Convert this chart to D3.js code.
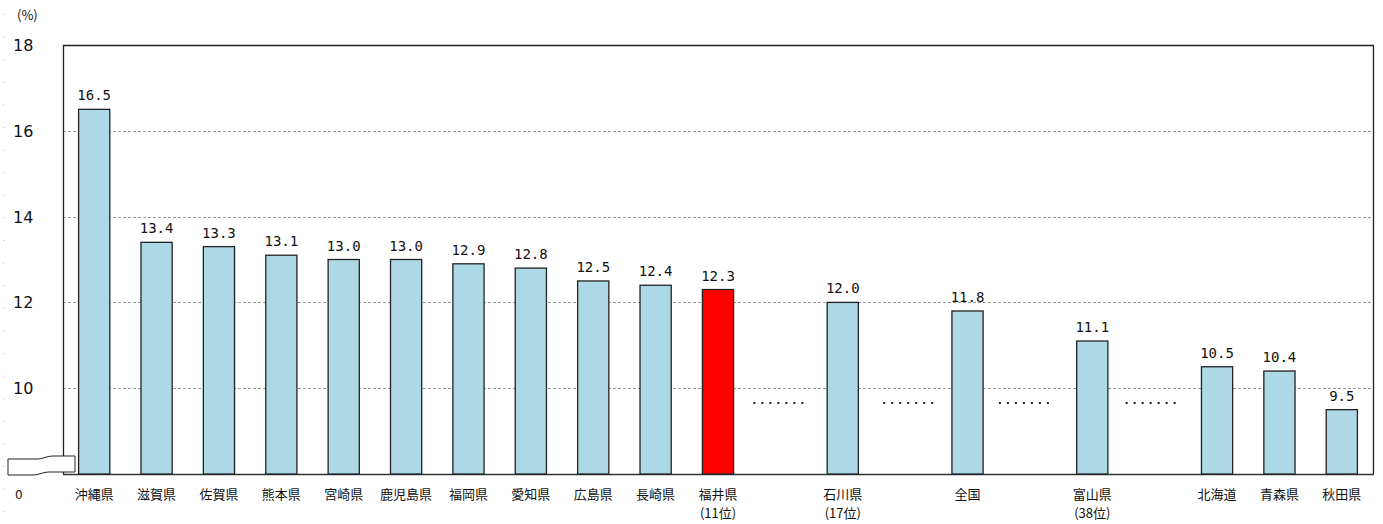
<!DOCTYPE html>
<html>
<head>
<meta charset="utf-8">
<script src="https://cdn.jsdelivr.net/npm/d3@7"></script>
<style>
  html, body { margin: 0; padding: 0; background: #fff; }
  svg { display: block; }
  .lbl { font-family: "Noto Sans CJK JP", sans-serif; font-size: 13px; fill: #111; }
  .val { font-family: "DejaVu Sans Mono", monospace; font-size: 14px; fill: #111; }
  .tick { font-family: "DejaVu Sans", sans-serif; font-size: 16px; fill: #111; }
</style>
</head>
<body>
<svg id="chart" width="1383" height="524"></svg>
<script>
// Prefectures (rank order), with gaps marked by "…" slots
const slots = ["沖縄県","滋賀県","佐賀県","熊本県","宮崎県","鹿児島県","福岡県","愛知県","広島県","長崎県","福井県",
               "gap1","石川県","gap2","全国","gap3","富山県","gap4","北海道","青森県","秋田県"];
const categories = ["沖縄県","滋賀県","佐賀県","熊本県","宮崎県","鹿児島県","福岡県","愛知県","広島県","長崎県","福井県",
                    "石川県","全国","富山県","北海道","青森県","秋田県"];
const values = [16.5,13.4,13.3,13.1,13.0,13.0,12.9,12.8,12.5,12.4,12.3,12.0,11.8,11.1,10.5,10.4,9.5];
const ranks = {"福井県":"(11位)","石川県":"(17位)","富山県":"(38位)"};
const highlight = "福井県";
const gaps = ["gap1","gap2","gap3","gap4"];
const yTicks = [10,12,14,16,18];

const svg = d3.select("#chart");
const L = 63, R = 1373, T = 45, B = 474;

const x = d3.scaleBand().domain(slots).range([L, R]).paddingInner(0.5).paddingOuter(0.25);
const y = d3.scaleLinear().domain([8, 18]).range([B, T]);

// faint marks along the left edge
svg.append("g").selectAll("rect").data(d3.range(14, 524, 22.6)).join("rect")
  .attr("x", 3).attr("y", d => d).attr("width", 1).attr("height", 1).attr("fill", "#bbb");

// dashed gridlines
svg.append("g").selectAll("line").data(yTicks.filter(v => v < 18)).join("line")
  .attr("x1", L).attr("x2", R).attr("y1", d => Math.round(y(d)) + 0.5).attr("y2", d => Math.round(y(d)) + 0.5)
  .attr("stroke", "#999").attr("stroke-dasharray", "3,2").attr("stroke-width", 1);

// frame
svg.append("path")
  .attr("d", `M${L + 0.5},${B}V${T + 0.5}H${R + 0.5}V${B}`)
  .attr("fill", "none").attr("stroke", "#222").attr("stroke-width", 1.3);
svg.append("line").attr("x1", L).attr("x2", R + 1).attr("y1", B + 0.5).attr("y2", B + 0.5)
  .attr("stroke", "#333").attr("stroke-width", 1.5);

// y tick labels
svg.append("g").selectAll("text").data(yTicks).join("text")
  .attr("class", "tick").attr("x", 13).attr("y", d => y(d) + 6).text(d => d);
svg.append("text").attr("class", "tick").attr("x", 15).attr("y", 499).style("font-size", "12px").text("0");
svg.append("text").attr("class", "lbl").attr("x", 17).attr("y", 20).style("font-size", "13px").text("(%)");

// bars
const data = categories.map((c, i) => ({ c, v: values[i] }));
svg.append("g").selectAll("rect").data(data).join("rect")
  .attr("x", d => x(d.c)).attr("width", x.bandwidth())
  .attr("y", d => y(d.v)).attr("height", d => B - y(d.v))
  .attr("fill", d => d.c === highlight ? "#ff0000" : "#add8e6")
  .attr("stroke", "#222").attr("stroke-width", 1.3);

// value labels
svg.append("g").selectAll("text").data(data).join("text")
  .attr("class", "val").attr("text-anchor", "middle")
  .attr("x", d => x(d.c) + x.bandwidth() / 2).attr("y", d => y(d.v) - 9)
  .text(d => d.v.toFixed(1));

// category labels
const cl = svg.append("g").selectAll("text").data(categories).join("text")
  .attr("class", "lbl").attr("text-anchor", "middle")
  .attr("x", d => x(d) + x.bandwidth() / 2).attr("y", 499);
cl.append("tspan").text(d => d);
cl.filter(d => ranks[d]).append("tspan")
  .attr("x", d => x(d) + x.bandwidth() / 2).attr("dy", 19).text(d => ranks[d]);

// dotted separators between ranked groups
const gapShift = { gap1: -2, gap2: 3, gap3: -6, gap4: -4 };
gaps.forEach(g => {
  const cx = x(g) + x.bandwidth() / 2 + gapShift[g];
  svg.append("g").selectAll("rect").data(d3.range(7)).join("rect")
    .attr("x", i => cx - 25 + i * 8).attr("y", 402).attr("width", 2).attr("height", 2).attr("fill", "#222");
});

// axis break symbol
svg.append("path")
  .attr("d", "M8,459 L36,459 C44,459 46,456 54,456 L75,456 L75,472 L50,472 C42,472 40,475 32,475 L8,475 Z")
  .attr("fill", "#fff").attr("stroke", "#222").attr("stroke-width", 1);
</script>
</body>
</html>
